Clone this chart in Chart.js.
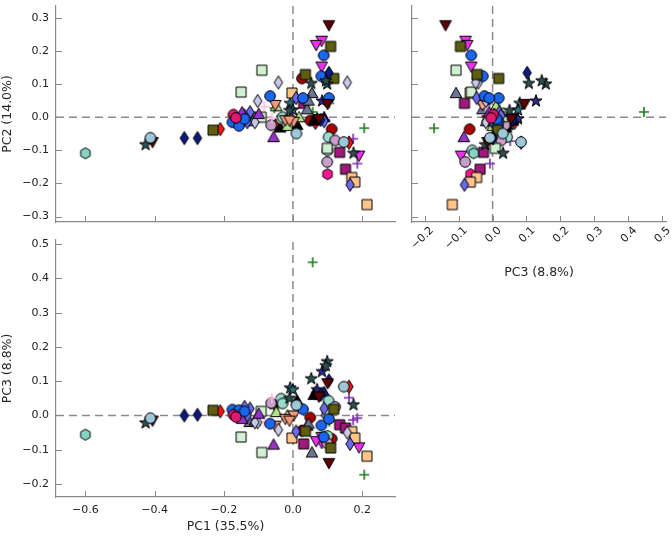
<!DOCTYPE html>
<html><head><meta charset="utf-8">
<script src="https://cdn.jsdelivr.net/npm/chart.js@4"></script>
<style>
html,body{margin:0;padding:0;background:#fff;}
#wrap{position:relative;width:672px;height:536px;overflow:hidden;}
canvas{position:absolute;left:0;top:0;}
</style></head><body>
<div id="wrap">
<canvas id="c1" width="672" height="536"></canvas>
<canvas id="c2" width="672" height="536"></canvas>
<canvas id="c3" width="672" height="536"></canvas>
</div>
<script>
// ---- data: each sample is [PC1, PC2, PC3] ----
const tealHexagon = [[-0.600,-0.109,-0.056]];
const pinkHexagon = [[0.100,-0.172,-0.065]];
const lightBlueCircle = [[-0.412,-0.062,-0.008],[0.010,-0.049,0.030],[0.147,-0.075,0.084]];
const tealCircle = [[-0.034,-0.005,0.049],[0.103,-0.060,0.043],[0.100,-0.100,-0.060],[-0.030,0.000,0.035]];
const mauveCircle = [[-0.063,-0.024,0.036],[0.122,-0.070,0.025],[0.099,-0.135,-0.081]];
const crimsonCircle = [[-0.172,0.008,0.002],[-0.165,-0.002,-0.004]];
const blueCircle = [[-0.175,-0.015,0.017],[-0.156,-0.026,0.015],[-0.140,-0.005,0.012],[-0.066,0.064,-0.024],[0.029,0.058,0.018],[0.082,0.124,-0.029],[0.089,0.187,-0.063],[0.104,0.058,-0.010]];
const darkRedCircle = [[0.026,0.117,-0.044],[0.112,-0.036,-0.068],[0.050,-0.010,-0.006]];
const purpleTriangle = [[-0.147,0.015,-0.010],[-0.099,0.010,0.005],[-0.056,-0.060,-0.085]];
const slateBlueDiamond = [[-0.124,0.015,0.020],[-0.132,-0.015,0.000],[-0.140,0.005,0.025],[0.009,0.058,-0.047],[0.090,-0.012,0.020],[0.165,-0.204,-0.083]];
const lavenderDiamond = [[-0.102,0.049,-0.020],[-0.042,0.105,-0.042],[0.157,0.105,-0.050],[-0.110,-0.015,-0.020]];
const lightGreenSquare = [[-0.150,0.076,-0.063],[-0.090,0.142,-0.108],[-0.092,0.000,0.012],[0.099,-0.094,0.008]];
const oliveSquare = [[-0.231,-0.039,0.015],[0.036,0.129,-0.046],[0.109,0.214,-0.095],[0.118,0.117,0.018]];
const redDiamond = [[-0.210,-0.036,0.012],[-0.050,-0.024,0.031],[0.065,-0.017,0.065],[0.162,-0.077,0.084]];
const navyDiamond = [[-0.314,-0.063,0.000],[-0.276,-0.063,0.002],[0.104,0.134,0.102],[0.080,-0.008,0.060]];
const pinkPlus = [[-0.083,0.032,-0.020],[-0.061,-0.002,0.050]];
const greenPlus = [[-0.054,0.027,0.020],[0.057,0.016,0.447],[0.105,0.042,-0.018],[0.206,-0.033,-0.173]];
const purplePlus = [[0.094,-0.009,0.000],[0.162,-0.072,0.052],[0.174,-0.065,-0.013],[0.186,-0.140,-0.008]];
const salmonTriDown = [[-0.051,0.037,-0.030],[-0.022,-0.009,-0.010],[0.002,-0.014,0.000],[-0.010,-0.010,-0.015]];
const lightGreenTriangle = [[-0.016,-0.026,0.000],[0.018,0.000,0.030],[-0.048,0.033,0.010]];
const blackTriangle = [[-0.037,-0.031,0.040],[0.012,-0.023,0.044],[0.060,-0.010,0.060]];
const slateTriangle = [[0.055,0.073,-0.108],[0.041,0.024,-0.030],[0.045,0.050,-0.024],[-0.125,-0.012,-0.019],[-0.110,0.000,-0.015]];
const peachSquare = [[-0.003,0.073,-0.066],[0.170,-0.182,-0.047],[0.179,-0.196,-0.066],[0.214,-0.264,-0.119]];
const purpleSquare = [[0.031,0.042,-0.083],[0.135,-0.106,-0.027],[0.152,-0.157,-0.037]];
const darkStar = [[-0.426,-0.083,-0.022],[0.053,0.102,0.107],[0.099,0.100,0.157],[0.095,0.110,0.145],[0.175,-0.109,0.031],[-0.010,0.020,0.050]];
const tealStar = [[-0.008,0.042,0.080],[0.000,0.022,0.075]];
const navyStar = [[0.084,0.049,0.128],[0.070,-0.005,0.075]];
const maroonTriDown = [[-0.406,-0.075,-0.015],[0.104,0.278,-0.139],[0.100,0.040,0.094],[0.075,-0.005,0.055]];
const magentaTriDown = [[0.083,0.231,-0.080],[0.067,0.218,-0.075],[0.083,0.153,-0.063],[0.191,-0.116,-0.093]];
const navyTriangle = [[0.090,0.000,0.068]];

const pc1Ticks = [-0.6,-0.4,-0.2,0.0,0.2];
const pc2Ticks = [-0.3,-0.2,-0.1,0.0,0.1,0.2,0.3];
const pc3Ticks = [-0.2,-0.1,0.0,0.1,0.2,0.3,0.4,0.5];
const axisTitles = ['PC1 (35.5%)','PC2 (14.0%)','PC3 (8.8%)'];

// ---- styles ----
const groups = [
  {v:tealHexagon, m:'h', c:'#86d4c4'},
  {v:lightBlueCircle, m:'o', c:'#9cc8da'},
  {v:maroonTriDown, m:'v', c:'#5c0000'},
  {v:darkStar, m:'*', c:'#2f4f4f'},
  {v:navyDiamond, m:'d', c:'#0a1a80'},
  {v:oliveSquare, m:'s', c:'#5e5e10'},
  {v:crimsonCircle, m:'o', c:'#e0186e'},
  {v:blueCircle, m:'o', c:'#1a66f0'},
  {v:purpleTriangle, m:'^', c:'#9932cc'},
  {v:slateBlueDiamond, m:'d', c:'#6a6af0'},
  {v:lavenderDiamond, m:'d', c:'#c8c8e8'},
  {v:lightGreenSquare, m:'s', c:'#d2f0d2'},
  {v:pinkPlus, m:'+', c:'#ffb8dc'},
  {v:salmonTriDown, m:'v', c:'#f49a7e'},
  {v:lightGreenTriangle, m:'^', c:'#b5e48c'},
  {v:mauveCircle, m:'o', c:'#c69fca'},
  {v:tealCircle, m:'o', c:'#98dccf'},
  {v:blackTriangle, m:'^', c:'#000000'},
  {v:slateTriangle, m:'^', c:'#6e7594'},
  {v:peachSquare, m:'s', c:'#ffc48a'},
  {v:purpleSquare, m:'s', c:'#a0197d'},
  {v:tealStar, m:'*', c:'#2c6e7e'},
  {v:navyStar, m:'*', c:'#2a2a8a'},
  {v:darkRedCircle, m:'o', c:'#aa0000'},
  {v:redDiamond, m:'d', c:'#ff1010'},
  {v:navyTriangle, m:'^', c:'#101a70'},
  {v:magentaTriDown, m:'v', c:'#ee30ee'},
  {v:greenPlus, m:'+', c:'#1b7d1b'},
  {v:purplePlus, m:'+', c:'#7a2ea8'},
  {v:pinkHexagon, m:'h', c:'#ff1493'}
];

function marker(shape, color){
  const S = 18, c = document.createElement('canvas');
  c.width = S; c.height = S;
  const g = c.getContext('2d');
  g.translate(S/2, S/2);
  g.fillStyle = color; g.strokeStyle = '#000'; g.lineWidth = 1;
  g.beginPath();
  if (shape === 'o') { g.arc(0,0,5.3,0,Math.PI*2); }
  else if (shape === 's') { g.rect(-5,-5,10,10); }
  else if (shape === 'd') { g.moveTo(0,-6.6); g.lineTo(4.2,0); g.lineTo(0,6.6); g.lineTo(-4.2,0); g.closePath(); }
  else if (shape === '^') { g.moveTo(0,-5.8); g.lineTo(5.8,4.6); g.lineTo(-5.8,4.6); g.closePath(); }
  else if (shape === 'v') { g.moveTo(0,5.8); g.lineTo(5.8,-4.6); g.lineTo(-5.8,-4.6); g.closePath(); }
  else if (shape === '*') {
    for (let i=0;i<10;i++){ const r = i%2===0 ? 6.4 : 2.5; const a = -Math.PI/2 + i*Math.PI/5;
      const x = r*Math.cos(a), y = r*Math.sin(a); if(i===0) g.moveTo(x,y); else g.lineTo(x,y);} g.closePath();
  }
  else if (shape === 'h') {
    for (let i=0;i<6;i++){ const a = -Math.PI/2 + i*Math.PI/3; const x=5.5*Math.cos(a), y=5.5*Math.sin(a); if(i===0) g.moveTo(x,y); else g.lineTo(x,y);} g.closePath();
  }
  else if (shape === '+') {
    g.strokeStyle = color; g.lineWidth = 1.6;
    g.moveTo(-5,0); g.lineTo(5,0); g.moveTo(0,-5); g.lineTo(0,5); g.stroke();
    return c;
  }
  g.fill(); g.stroke();
  return c;
}
groups.forEach(gr => gr.img = marker(gr.m, gr.c));

const fmt = v => (v < 0 ? '\u2212' : '') + Math.abs(v).toFixed(1);
const FONT = 'DejaVu Sans';
const GRAY = '#8a8a8a';

const decor = {
  id: 'decor',
  beforeDatasetsDraw(chart){
    const ctx = chart.ctx, a = chart.chartArea, xs = chart.scales.x, ys = chart.scales.y;
    ctx.save();
    ctx.beginPath(); ctx.rect(a.left, a.top, a.right-a.left, a.bottom-a.top); ctx.clip();
    ctx.strokeStyle = GRAY; ctx.lineWidth = 1.5; ctx.setLineDash([8,5]);
    const x0 = xs.getPixelForValue(0), y0 = ys.getPixelForValue(0);
    ctx.beginPath(); ctx.moveTo(x0, a.bottom); ctx.lineTo(x0, a.top); ctx.stroke();
    ctx.beginPath(); ctx.moveTo(a.left, y0); ctx.lineTo(a.right, y0); ctx.stroke();
    ctx.restore();
  },
  afterDraw(chart){
    const ctx = chart.ctx, a = chart.chartArea, xs = chart.scales.x, ys = chart.scales.y;
    ctx.save(); ctx.strokeStyle = GRAY; ctx.lineWidth = 1;
    xs.ticks.forEach(t => { const p = Math.round(xs.getPixelForValue(t.value)) + 0.5;
      ctx.beginPath(); ctx.moveTo(p, a.bottom); ctx.lineTo(p, a.bottom - 6); ctx.stroke(); });
    ys.ticks.forEach(t => { const p = Math.round(ys.getPixelForValue(t.value)) + 0.5;
      ctx.beginPath(); ctx.moveTo(a.left, p); ctx.lineTo(a.left + 6, p); ctx.stroke(); });
    ctx.restore();
  }
};

function makePanel(id, cfg){
  const datasets = groups.map(gr => ({
    data: gr.v.map(p => ({x: p[cfg.xi], y: p[cfg.yi]})),
    pointStyle: gr.img, pointRadius: 5, pointHoverRadius: 5, showLine: false, clip: 2
  }));
  new Chart(document.getElementById(id), {
    type: 'scatter',
    data: {datasets},
    options: {
      responsive: false, animation: false, events: [],
      layout: {padding: cfg.pad},
      plugins: {legend: {display: false}, tooltip: {enabled: false}},
      scales: {
        x: {
          type: 'linear', position: 'bottom', min: cfg.xr[0], max: cfg.xr[1],
          grid: {display: false, drawTicks: false},
          border: {display: true, color: GRAY, width: 1.2},
          ticks: {display: cfg.xLabels, padding: cfg.xPad, color: '#222', font: {family: FONT, size: 11},
            autoSkip: false, maxRotation: cfg.rot, minRotation: cfg.rot, labelOffset: cfg.xLabelOffset || 0,
            callback: v => fmt(v)},
          title: {display: !!cfg.xTitle, text: cfg.xTitle || '', color: '#262626', font: {family: FONT, size: 12.5}, padding: {top: 0, bottom: 0}},
          afterBuildTicks: s => { s.ticks = cfg.xt.map(v => ({value: v})); },
          afterFit: s => { s.height = cfg.xh; s.paddingLeft = 0; s.paddingRight = 0; s.paddingTop = 0; s.paddingBottom = 0; }
        },
        y: {
          type: 'linear', position: 'left', min: cfg.yr[0], max: cfg.yr[1],
          grid: {display: false, drawTicks: false},
          border: {display: true, color: GRAY, width: 1.2},
          ticks: {display: cfg.yLabels, padding: 7, color: '#222', font: {family: FONT, size: 11}, callback: v => fmt(v)},
          title: {display: !!cfg.yTitle, text: cfg.yTitle || '', color: '#262626', font: {family: FONT, size: 12.5}, padding: {top: 0, bottom: 0}},
          afterBuildTicks: s => { s.ticks = cfg.yt.map(v => ({value: v})); },
          afterFit: s => { s.width = cfg.yw; s.paddingTop = 0; s.paddingBottom = 0; s.paddingLeft = 0; s.paddingRight = 0; }
        }
      }
    },
    plugins: [decor]
  });
}

const pc1Range = [-0.685, 0.295];
const pc2Range = [-0.3165, 0.336];
const pc3Range = [-0.238, 0.512];

makePanel('c1', {xi:0, yi:1, xr:pc1Range, yr:pc2Range, xt:pc1Ticks, yt:pc2Ticks,
  pad:{left:0, top:0, right:277, bottom:306}, yw:56, xh:8, xLabels:false, yLabels:true, rot:0, xPad:0,
  yTitle: axisTitles[1]});
makePanel('c2', {xi:2, yi:1, xr:pc3Range, yr:pc2Range, xt:pc3Ticks, yt:pc2Ticks,
  pad:{left:402, top:0, right:4, bottom:256}, yw:10, xh:58, xLabels:true, yLabels:false, rot:45, xPad:2, xLabelOffset:7,
  xTitle: axisTitles[2]});
makePanel('c3', {xi:0, yi:2, xr:pc1Range, yr:pc3Range, xt:pc1Ticks, yt:pc3Ticks,
  pad:{left:0, top:240, right:277, bottom:1.5}, yw:56, xh:37.5, xLabels:true, yLabels:true, rot:0, xPad:7,
  xTitle: axisTitles[0], yTitle: axisTitles[2]});
</script>
</body></html>
